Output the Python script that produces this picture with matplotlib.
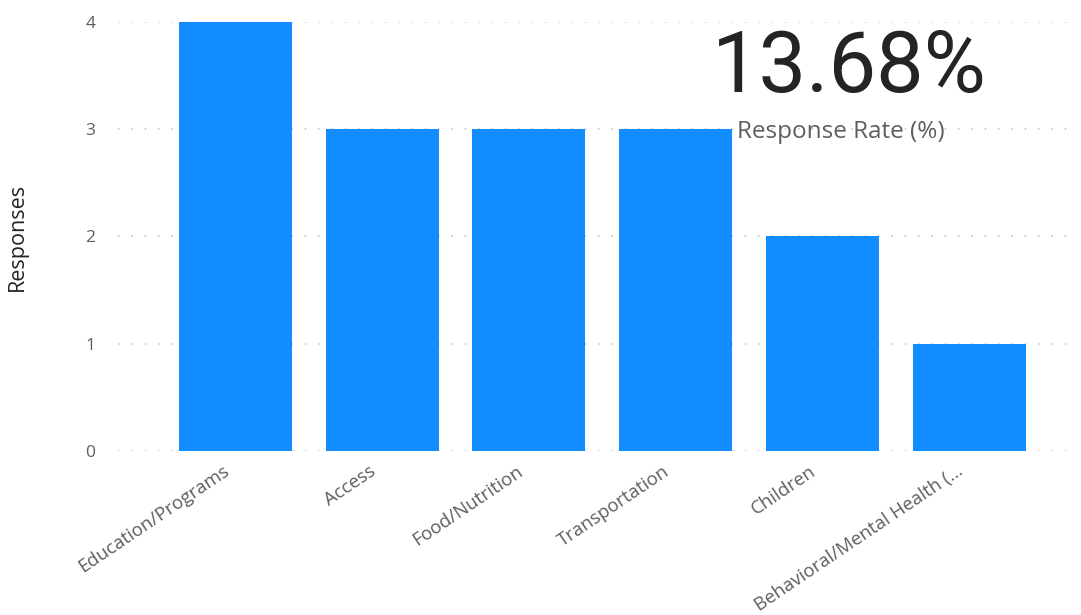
import matplotlib.pyplot as plt
from matplotlib.transforms import ScaledTranslation

categories = ["Education/Programs", "Access", "Food/Nutrition", "Transportation",
              "Children", "Behavioral/Mental Health (..."]
responses = [4, 3, 3, 3, 2, 1]
kpi_value = "13.68%"
kpi_label = "Response Rate (%)"

plt.rcParams['font.family'] = ['Open Sans', 'DejaVu Sans']

fig = plt.figure(figsize=(10.81, 6.15), dpi=100)
ax = fig.add_axes([0.109, 0.2667, 0.8855, 0.6975])

x = range(len(categories))
ax.bar(x, responses, width=0.77, color="#118DFF", zorder=2)

ax.set_ylim(0, 4)
ax.set_xlim(-0.8, 5.72)
ax.set_yticks([0, 1, 2, 3, 4])
ax.yaxis.grid(True, color="#C8C8C8", linestyle=(0, (1, 7)), linewidth=1.2, zorder=0)
ax.set_xticks(list(x))
ax.set_xticklabels(categories, rotation=34, ha="right", rotation_mode="anchor")

for s in ax.spines.values():
    s.set_visible(False)
ax.tick_params(axis="x", length=0, colors="#605E5C", labelsize=13.4, pad=8)
ax.tick_params(axis="y", length=0, colors="#605E5C", labelsize=12.5, pad=16)

# nudge x labels a bit to the left, like the reference
shift = ScaledTranslation(-13 / 100, 0, fig.dpi_scale_trans)
for lbl in ax.get_xticklabels():
    lbl.set_transform(lbl.get_transform() + shift)

ax.set_ylabel("Responses", fontsize=15.5, color="#252423")
ax.yaxis.set_label_coords(-0.094, 0.5)

fig.text(0.659, 0.850, kpi_value, fontsize=61, color="#252423",
         family=["Roboto", "DejaVu Sans"], ha="left", va="baseline")
fig.text(0.6815, 0.785, kpi_label, fontsize=17.5, color="#605E5C",
         ha="left", va="center")

fig.savefig("out.png", dpi=100)
